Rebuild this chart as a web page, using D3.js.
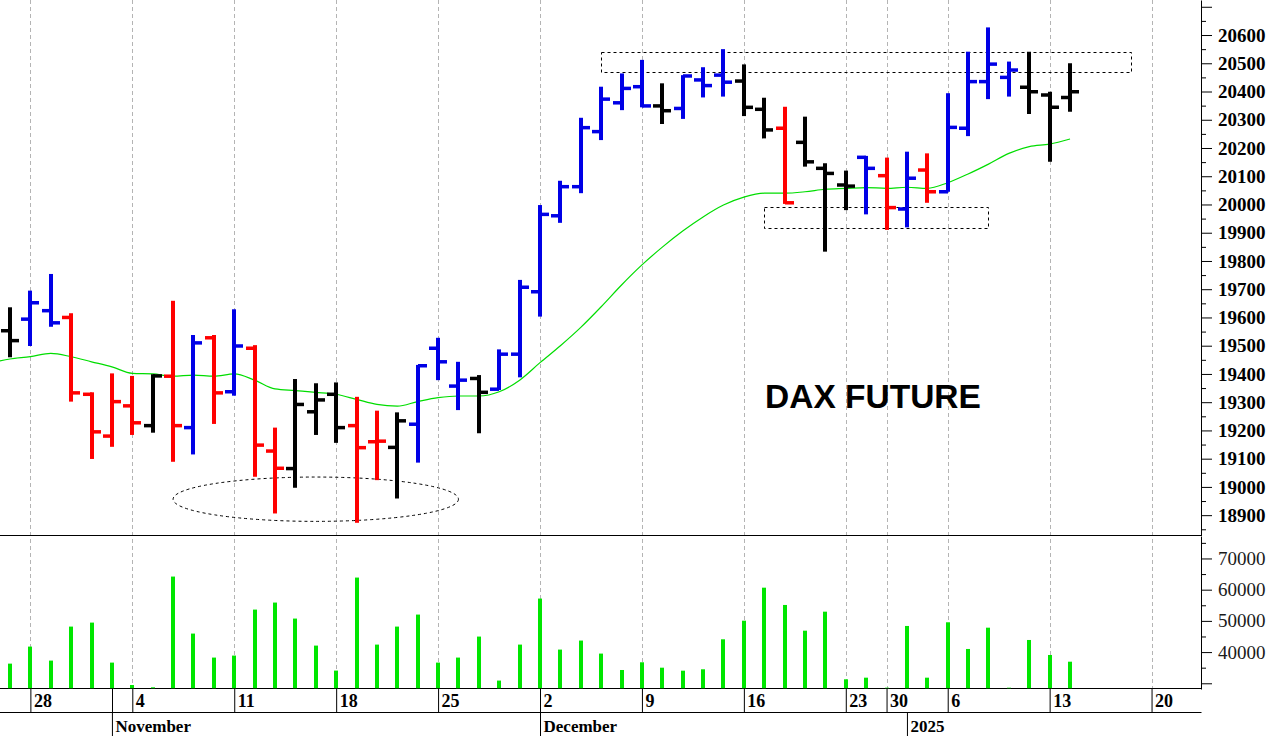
<!DOCTYPE html>
<html><head><meta charset="utf-8">
<script src="https://cdn.jsdelivr.net/npm/d3@7"></script>
<style>
html,body{margin:0;padding:0;background:#fff;}
svg{display:block;}
</style></head><body>
<svg id="chart" width="1273" height="736"></svg>
<script>
// ---------- DATA ----------
const dates = [
 "2024-10-25","2024-10-28","2024-10-29","2024-10-30","2024-10-31","2024-11-01",
 "2024-11-04","2024-11-05","2024-11-06","2024-11-07","2024-11-08",
 "2024-11-11","2024-11-12","2024-11-13","2024-11-14","2024-11-15",
 "2024-11-18","2024-11-19","2024-11-20","2024-11-21","2024-11-22",
 "2024-11-25","2024-11-26","2024-11-27","2024-11-28","2024-11-29",
 "2024-12-02","2024-12-03","2024-12-04","2024-12-05","2024-12-06",
 "2024-12-09","2024-12-10","2024-12-11","2024-12-12","2024-12-13",
 "2024-12-16","2024-12-17","2024-12-18","2024-12-19","2024-12-20",
 "2024-12-23","2024-12-27","2024-12-30","2025-01-02","2025-01-03",
 "2025-01-06","2025-01-07","2025-01-08","2025-01-09","2025-01-10",
 "2025-01-13","2025-01-14"];
const opens = [19553,19594,19624,19600,19328,19180, 19287,19217,19392,19210,19528,
 19337,19491,19127,19065,19266, 19328,19217,19160,19140,19222,
 19491,19357,19384,19346,19470, 19691,19960,20063,20258,20360,
 20417,20349,20340,20441,20458, 20437,20337,20270,20220,20128,
 20069,20167,20102,19984,20122, 20045,20270,20435,20450,20415, 20388,20379];
const highs = [19636,19695,19754,19615,19335,19402, 19393,19399,19659,19538,19538,
 19629,19502,19210,19382,19367, 19370,19319,19270,19264,19432,
 19528,19443,19396,19487,19733, 19998,20084,20307,20417,20464,
 20512,20429,20458,20486,20550, 20496,20378,20346,20311,20146,
 20120,20172,20166,20187,20181, 20394,20541,20627,20506,20541, 20399,20500];
const lows = [19459,19499,19567,19302,19099,19142, 19184,19192,19089,19115,19223,
 19323,19036,18906,18997,19184, 19156,18873,19024,18959,19086,
 19378,19272,19190,19343,19388, 19603,19935,20040,20228,20334,
 20344,20285,20303,20379,20382, 20313,20234,20002,20134,19833,
 19980,19965,19910,19919,20006, 20045,20242,20373,20382,20320, 20151,20328];
const closes = [19518,19652,19581,19333,19195,19302, 19227,19393,19217,19510,19333,
 19499,19148,19066,19292,19308, 19210,19139,19162,19234,19429,
 19443,19378,19335,19470,19707, 19965,20063,20272,20373,20411,
 20349,20332,20455,20421,20433, 20344,20264,20006,20151,20110,
 20065,20128,19989,20093,20045, 20273,20435,20497,20476,20399, 20344,20399];
// bar signal: u = up (blue), d = down (red), n = neutral (black)
const signals = ["n","u","u","d","d","d", "d","n","d","u","d",
 "u","d","d","n","n", "n","d","d","n","u",
 "u","u","n","u","u", "u","u","u","u","u",
 "u","n","u","u","u", "n","n","d","n","n",
 "n","u","d","u","d", "u","u","u","u","n", "n","n"];
const volumes = [36300,41760,37270,48170,49450,36630, 29450,28720,64200,45930,38240,
 38880,53620,55870,50740,42080, 34070,63880,42400,48170,52020,
 36630,38240,44970,30870,42400, 57150,40800,43690,39520,34260,
 36730,35000,34040,34490,44100, 50060,60640,55100,46860,52950,
 31280,31800,28590,48370,31800, 49550,41000,47820,28590,43880, 39070,36920];
const maDates = ["2024-10-24"].concat(dates);
const maValues = [19438,19453,19461,19473,19461,19443,19425,
 19402,19400,19392,19396,19392,
 19400,19378,19347,19341,19335,
 19328,19310,19292,19286,19302,
 19316,19322,19322,19337,19378,
 19440,19500,19565,19638,19715,
 19786,19849,19906,19956,19998,
 20026,20040,20040,20045,20054,
 20057,20060,20057,20061,20057,
 20077,20108,20143,20181,20205,
 20214,20232];
const futureSessions = ["2025-01-15","2025-01-16","2025-01-17","2025-01-20"];
const weekTicks = ["2024-10-28","2024-11-04","2024-11-11","2024-11-18","2024-11-25","2024-12-02",
 "2024-12-09","2024-12-16","2024-12-23","2024-12-30","2025-01-06","2025-01-13","2025-01-20"];
const weekLabels = ["28","4","11","18","25","2","9","16","23","30","6","13","20"];
const monthStarts = ["2024-11-01","2024-12-02","2025-01-02"];
const monthLabels = ["November","December","2025"];
const priceMajorTicks = d3.range(18900, 20701, 100);
const priceMinorTicks = d3.range(18850, 20751, 100);
const volMajorTicks = [30000,40000,50000,60000,70000];
const volMinorTicks = [35000,45000,55000,65000,75000];
const resistanceBox = {from:"2024-12-05", to:"2025-01-17", top:20540, bottom:20468};
const supportBox = {from:"2024-12-17", to:"2025-01-08", top:19992, bottom:19918};
const lowEllipse = {from:"2024-11-06", to:"2024-11-26", top:19035, bottom:18878};
const title = "DAX FUTURE";

// ---------- CHART ----------
const sessions = maDates.concat(futureSessions);
const svg = d3.select("#chart");
const axisX = 1201.5;
const x = d3.scalePoint().domain(sessions).range([-10.385, 1151.56]);
const yP = d3.scaleLinear().domain([18828, 20724]).range([535.5, 0]);
const yV = d3.scaleLinear().domain([28170, 77200]).range([689, 536]);
const colorMap = {u:"#0000e6", d:"#ff0000", n:"#000000"};
const px = d => Math.round(x(d));

const defs = svg.append("defs");
defs.append("clipPath").attr("id","cp").append("rect").attr("x",0).attr("y",0).attr("width",axisX).attr("height",535);
defs.append("clipPath").attr("id","cv").append("rect").attr("x",0).attr("y",536).attr("width",axisX).attr("height",152.5);

// grid
svg.append("g").selectAll("line").data(weekTicks).join("line")
  .attr("x1", d => px(d)+0.5).attr("x2", d => px(d)+0.5)
  .attr("y1", 0).attr("y2", 688)
  .attr("stroke", "#b4b4b4").attr("stroke-width", 1).attr("stroke-dasharray", "4,3");

// frame lines
const frame = svg.append("g").attr("stroke","#000").attr("stroke-width",1);
[535.5, 688.5, 712.5].forEach(yy => frame.append("line").attr("x1",0).attr("x2",axisX).attr("y1",yy).attr("y2",yy));

// annotations
const ann = svg.append("g").attr("clip-path","url(#cp)").attr("fill","none").attr("stroke","#000")
  .attr("stroke-width",1).attr("stroke-dasharray","3,3");
[resistanceBox, supportBox].forEach(b => {
  ann.append("rect").attr("x", px(b.from)+0.5).attr("y", Math.round(yP(b.top))+0.5)
    .attr("width", px(b.to)-px(b.from)).attr("height", Math.round(yP(b.bottom))-Math.round(yP(b.top)));
});
ann.append("ellipse")
  .attr("cx", (x(lowEllipse.from)+x(lowEllipse.to))/2)
  .attr("cy", (yP(lowEllipse.top)+yP(lowEllipse.bottom))/2)
  .attr("rx", (x(lowEllipse.to)-x(lowEllipse.from))/2)
  .attr("ry", (yP(lowEllipse.bottom)-yP(lowEllipse.top))/2);

// moving average
svg.append("path").datum(maDates.map((d,i)=>({d, v:maValues[i]})))
  .attr("clip-path","url(#cp)")
  .attr("fill","none").attr("stroke","#00dd00").attr("stroke-width",1.2)
  .attr("d", d3.line().x(p=>x(p.d)).y(p=>yP(p.v)).curve(d3.curveMonotoneX));

// OHLC bars
const bars = svg.append("g").attr("clip-path","url(#cp)");
dates.forEach((d,i) => {
  const cx = px(d), col = colorMap[signals[i]];
  const g = bars.append("g").attr("stroke", col);
  g.append("line").attr("x1",cx).attr("x2",cx).attr("y1",yP(highs[i])).attr("y2",yP(lows[i])).attr("stroke-width",4);
  g.append("line").attr("x1",cx-9).attr("x2",cx).attr("y1",yP(opens[i])).attr("y2",yP(opens[i])).attr("stroke-width",3.5);
  g.append("line").attr("x1",cx).attr("x2",cx+9).attr("y1",yP(closes[i])).attr("y2",yP(closes[i])).attr("stroke-width",3.5);
});

// volume
svg.append("g").attr("clip-path","url(#cv)").selectAll("rect").data(dates).join("rect")
  .attr("x", d => px(d)-2).attr("width", 4)
  .attr("y", (d,i) => yV(volumes[i])).attr("height", (d,i) => 688.5 - yV(volumes[i]))
  .attr("fill", "#00e600");

// right axes
function styleAxis(g, weight){
  g.attr("font-family","Liberation Serif").attr("font-size",19).attr("font-weight",weight);
  g.selectAll("text").attr("fill","#000");
  g.selectAll(".tick line").attr("stroke","#000");
  g.select(".domain").attr("stroke","#000");
}
const pMaj = svg.append("g").attr("transform",`translate(${axisX-0.5},0)`)
  .call(d3.axisRight(yP).tickValues(priceMajorTicks).tickSize(11).tickSizeOuter(0).tickPadding(6)
    .tickFormat(d => d <= 20600 ? String(d) : ""));
styleAxis(pMaj, "bold");
const pMin = svg.append("g").attr("transform",`translate(${axisX-0.5},0)`)
  .call(d3.axisRight(yP).tickValues(priceMinorTicks).tickSize(5).tickSizeOuter(0).tickFormat(""));
styleAxis(pMin, "bold"); pMin.select(".domain").remove();

const vMaj = svg.append("g").attr("transform",`translate(${axisX-0.5},0)`)
  .call(d3.axisRight(yV).tickValues(volMajorTicks).tickSize(11).tickSizeOuter(0).tickPadding(6)
    .tickFormat(d => d >= 40000 ? String(d) : ""));
styleAxis(vMaj, "normal");
vMaj.selectAll("text").attr("fill","#1a1a1a");
const vMin = svg.append("g").attr("transform",`translate(${axisX-0.5},0)`)
  .call(d3.axisRight(yV).tickValues(volMinorTicks).tickSize(5).tickSizeOuter(0).tickFormat(""));
styleAxis(vMin, "normal"); vMin.select(".domain").remove();

// bottom date axes
const wAx = svg.append("g").attr("transform","translate(0,688.5)")
  .call(d3.axisBottom(x).tickValues(weekTicks).tickSize(24).tickSizeOuter(0)
    .tickFormat((d,i) => weekLabels[i]));
wAx.select(".domain").remove();
wAx.attr("font-family","Liberation Serif").attr("font-size",18).attr("font-weight","bold");
wAx.selectAll(".tick line").attr("stroke","#000");
wAx.selectAll("text").attr("fill","#000").attr("text-anchor","start").attr("x",3).attr("y",18).attr("dy",0);

const mAx = svg.append("g").attr("transform","translate(0,712.5)")
  .call(d3.axisBottom(x).tickValues(monthStarts).tickSize(24).tickSizeOuter(0)
    .tickFormat((d,i) => monthLabels[i]));
mAx.select(".domain").remove();
mAx.attr("font-family","Liberation Serif").attr("font-size",17).attr("font-weight","bold");
mAx.selectAll(".tick line").attr("stroke","#000");
mAx.selectAll("text").attr("fill","#000").attr("text-anchor","start").attr("x",3).attr("y",19).attr("dy",0);
// November separator spans both label rows
svg.append("line").attr("x1",px(monthStarts[0])+0.5).attr("x2",px(monthStarts[0])+0.5)
  .attr("y1",688.5).attr("y2",712.5).attr("stroke","#000");

// title
svg.append("text").attr("x",765).attr("y",408)
  .attr("font-family","Liberation Sans").attr("font-weight","bold").attr("font-size",33.5)
  .attr("fill","#000").text(title);
</script>
</body></html>
